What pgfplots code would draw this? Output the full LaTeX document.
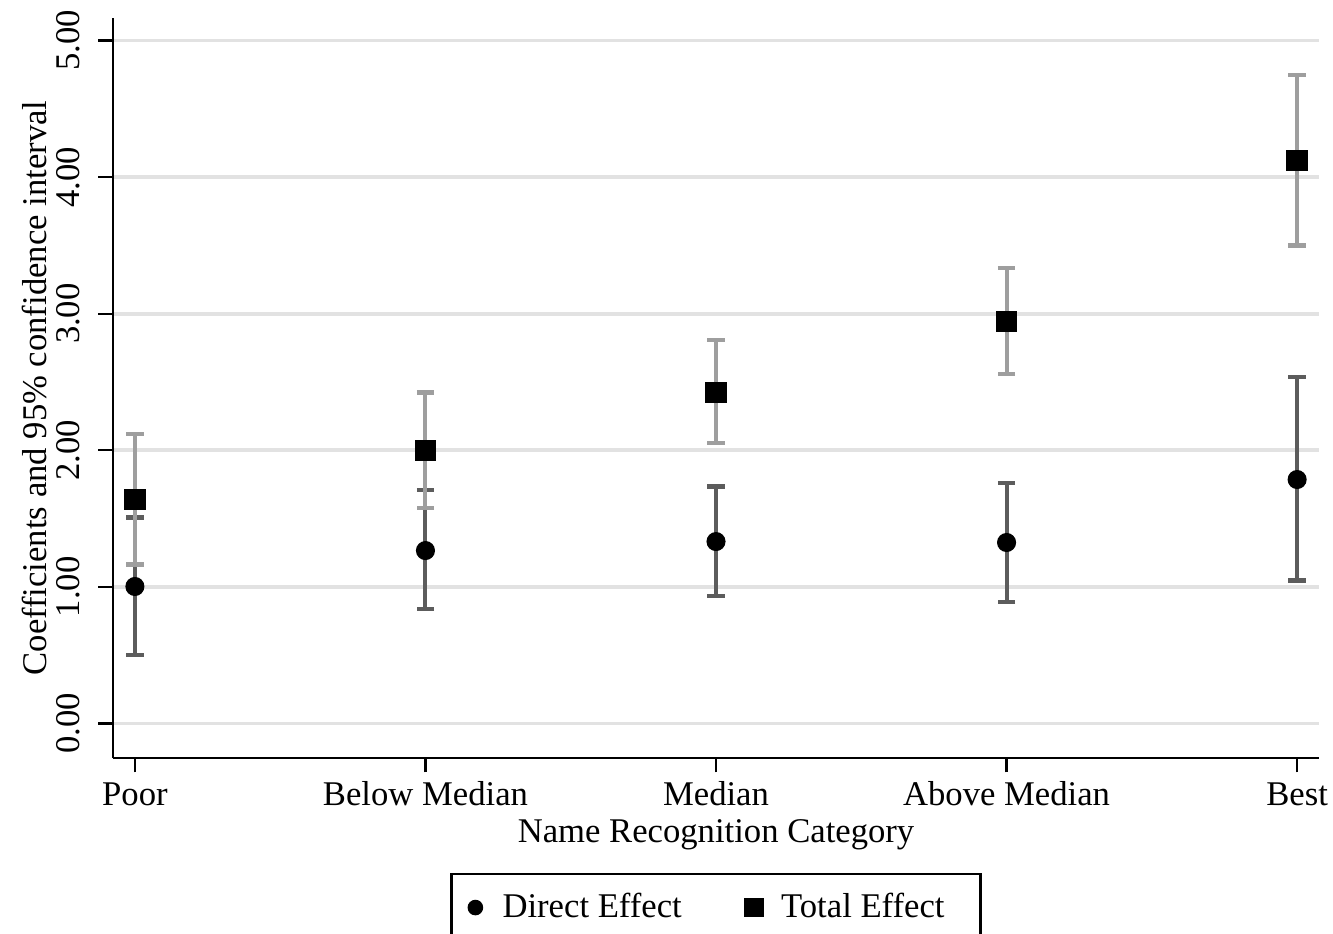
\documentclass[border=0pt]{standalone}
\usepackage{pgfplots}
\usepackage{pgfplotstable}
\pgfplotsset{compat=1.18}
\usepackage{fontspec}
\setmainfont{Liberation Serif}
\definecolor{dgray}{RGB}{92,92,92}
\definecolor{lgray}{RGB}{158,158,158}
\definecolor{gridc}{RGB}{226,226,226}
\pgfplotsset{
  legcirc/.style={legend image code/.code={\path[draw=none] (0pt,0pt) -- (10.7pt,0pt);\draw[##1,/tikz/only marks,mark size=2.3pt] plot coordinates {(3.3pt,0pt)};}},
  legsq/.style={legend image code/.code={\path[draw=none] (0pt,0pt) -- (10.7pt,0pt);\draw[##1,/tikz/only marks,mark size=2.9pt] plot coordinates {(3.3pt,0pt)};}},
}
\pgfplotstableread{
x y ep em
0 1.003 0.505 0.498
1 1.266 0.440 0.431
2 1.332 0.403 0.402
3 1.325 0.439 0.432
4 1.786 0.747 0.739
}\direct
\pgfplotstableread{
x y ep em
0 1.640 0.476 0.476
1 1.999 0.424 0.418
2 2.423 0.381 0.373
3 2.943 0.388 0.388
4 4.121 0.623 0.622
}\total
\begin{document}
\fontsize{12}{14}\selectfont
\begin{tikzpicture}
\useasboundingbox (-39.1pt,-60.6pt) rectangle (422.5pt,262.5pt);
\begin{axis}[
  scale only axis, width=417.7pt, height=256.3pt,
  xmin=-0.0757, xmax=4.0757, ymin=-0.2526, ymax=5.165,
  axis lines*=left,
  axis line style={line width=0.8pt, black},
  xtick={0,1,2,3,4},
  xticklabels={Poor,Below Median,Median,Above Median,Best},
  ytick={0,1,2,3,4,5},
  yticklabels={0.00,1.00,2.00,3.00,4.00,5.00},
  tick align=outside, major tick length=5pt,
  tick style={line width=0.8pt, black},
  ymajorgrids, grid style={line width=1.3pt, color=gridc},
  font=\fontsize{12}{14}\selectfont,
  xticklabel style={anchor=base, inner sep=0pt},
  xticklabel shift=11.5pt,
  yticklabel style={rotate=90, anchor=south, inner sep=0pt},
  yticklabel shift=6.2pt,
  xlabel={Name Recognition Category},
  ylabel={Coefficients and 95\% confidence interval},
  xlabel style={at={(axis description cs:0.5,-0.1147)}, anchor=base, inner sep=0pt},
  ylabel style={at={(axis description cs:-0.0646,0.5)}, anchor=center, rotate=0},
  legend style={at={(0.5,-0.1555)}, anchor=north, legend columns=2,
    draw=black, line width=0.8pt, inner xsep=5pt, inner ysep=4.4pt,
    font=\fontsize{12}{14}\selectfont,
    /tikz/every even column/.append style={column sep=19.7pt}},
  legend cell align=left,
]
\addplot[only marks, mark=*, mark size=3.1pt, black, legcirc,
  error bars/.cd, y dir=both, y explicit,
  error bar style={line width=1.4pt, color=dgray},
  error mark options={rotate=90, mark size=3pt, line width=1.4pt, color=dgray}]
  table[x=x, y=y, y error plus=ep, y error minus=em]{\direct};
\addlegendentry{Direct Effect}
\addplot[only marks, mark=square*, mark size=3.5pt, black, legsq,
  error bars/.cd, y dir=both, y explicit,
  error bar style={line width=1.4pt, color=lgray},
  error mark options={rotate=90, mark size=3pt, line width=1.4pt, color=lgray}]
  table[x=x, y=y, y error plus=ep, y error minus=em]{\total};
\addlegendentry{Total Effect\rule{5.5pt}{0pt}}
\end{axis}
\end{tikzpicture}
\end{document}
